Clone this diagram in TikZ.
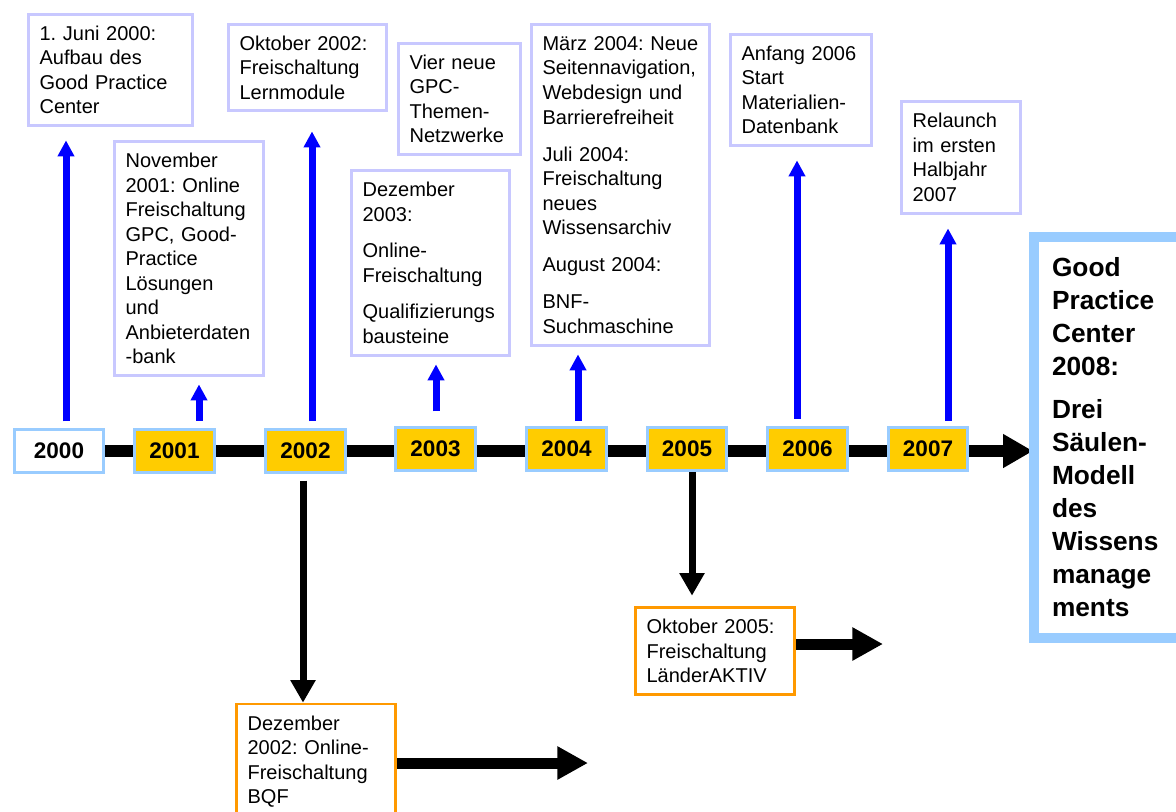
\documentclass[tikz,border=0pt]{standalone}
\usepackage{fontspec}
\setmainfont{Liberation Sans}
\usetikzlibrary{arrows.meta,backgrounds}
\definecolor{lav}{RGB}{200,200,255}
\definecolor{lblue}{RGB}{153,204,255}
\definecolor{gold}{RGB}{255,204,0}
\definecolor{orng}{RGB}{255,153,0}
\definecolor{pblue}{RGB}{0,0,255}
\hyphenpenalty=10000
\exhyphenpenalty=10000
\frenchspacing
\begin{document}
\begin{tikzpicture}[x=0.75pt,y=-0.75pt,
  txt/.style={font=\fontsize{15}{18.4}\selectfont\frenchspacing, align=left, inner xsep=8.5pt, inner ysep=0pt},
  evbox/.style={txt, draw=lav, line width=2pt},
  orbox/.style={txt, draw=orng, line width=2pt},
  yr/.style={draw=lblue, line width=2.25pt, fill=gold, minimum width=59.6pt, minimum height=32.25pt, inner sep=0pt, font=\fontsize{16.9}{20}\selectfont\bfseries},
  bigbox/.style={draw=lblue, line width=7.5pt, align=left, inner xsep=13.9pt, inner ysep=0pt, font=\fontsize{19.7}{24.75}\selectfont\bfseries},
  uparr/.style={draw=pblue, line width=5.25pt, -{Triangle[length=12pt,width=12pt]}},
  downarr/.style={draw=black, line width=5.25pt, -{Triangle[length=17pt,width=18pt]}},
  rarr/.style={draw=black, line width=8.25pt, -{Triangle[length=23pt,width=23.5pt]}},
  tline/.style={draw=black, line width=9pt, -{Triangle[length=22.5pt,width=24pt]}}
]
\useasboundingbox (0,0) rectangle (1176,811);

% year boxes
\node[yr, fill=white, minimum width=66.75pt] (y2000) at (59,451) {2000};
\node[yr] (y2001) at (174.5,451) {2001};
\node[yr] (y2002) at (305.5,451) {2002};
\node[yr] (y2003) at (435.5,449) {2003};
\node[yr] (y2004) at (566.5,449) {2004};
\node[yr] (y2005) at (687,449) {2005};
\node[yr] (y2006) at (807.5,449) {2006};
\node[yr] (y2007) at (928,449) {2007};

% event boxes
\node[evbox, text width=106.4pt, minimum height=83.6pt] (n2000) at (110.5,70)
  {1. Juni 2000:\\Aufbau des\\Good Practice\\Center};
\node[evbox, text width=101.9pt, minimum height=64.9pt] (n2002a) at (307.5,67.5)
  {Oktober 2002:\\Freischaltung\\Lernmodule};
\node[evbox, text width=95.1pt, minimum height=175.9pt] (n2001) at (189,258.5)
  {November\\2001: Online\\Freischaltung\\GPC, Good-\\Practice\\Lösungen\\und\\Anbieterdaten\\-bank};
\node[evbox, text width=74.9pt, minimum height=83.6pt] (n2003a) at (459.5,99)
  {Vier neue\\GPC-\\Themen-\\Netzwerke};
\node[evbox, text width=101.9pt, minimum height=139.1pt] (n2003) at (430.5,263)
  {Dezember\\2003:\\[9pt]Online-\\Freischaltung\\[9pt]Qualifizierungs\\bausteine};
\node[evbox, text width=116.9pt, minimum height=241.1pt] (n2004) at (620.5,185)
  {März 2004: Neue\\Seitennavigation,\\Webdesign und\\Barrierefreiheit\\[9.4pt]Juli 2004:\\Freischaltung\\neues\\Wissensarchiv\\[9.4pt]August 2004:\\[9.4pt]BNF-\\Suchmaschine};
\node[evbox, text width=89.1pt, minimum height=83.6pt] (n2006) at (801,90)
  {Anfang 2006\\Start\\Materialien-\\Datenbank};
\node[evbox, text width=72.6pt, minimum height=84.4pt] (n2007) at (961,157.5)
  {Relaunch\\im ersten\\Halbjahr\\2007};

% bottom boxes
\node[orbox, text width=102.6pt, minimum height=86.25pt] (dez) at (316,761.5)
  {Dezember\\2002: Online-\\Freischaltung\\BQF};
\node[orbox, text width=102.6pt, minimum height=65.6pt] (okt) at (715,651)
  {Oktober 2005:\\Freischaltung\\LänderAKTIV};

% big box
\node[bigbox, text width=89.6pt, minimum height=300.4pt] (big) at (1111.75,437.25)
  {Good\\Practice\\Center\\2008:\\[7.5pt]Drei\\Säulen-\\Modell\\des\\Wissens\\manage\\ments};

% timeline
\begin{pgfonlayer}{background}
\draw[tline, shorten >=-3.4pt] (y2000.east) -- (y2000.east -| big.west);
\end{pgfonlayer}

% blue arrows
\draw[uparr, shorten <=4.9pt, shorten >=10pt] (y2000.north -| 66,0) -- (n2000.south -| 66,0);
\draw[uparr, shorten <=5.6pt, shorten >=5.5pt] (y2001.north -| 199,0) -- (n2001.south -| 199,0);
\draw[uparr, shorten <=4.9pt, shorten >=14.5pt] (y2002.north -| 312,0) -- (n2002a.south -| 312,0);
\draw[uparr, shorten <=10.9pt, shorten >=5.5pt] (y2003.north -| 436,0) -- (n2003.south -| 436,0);
\draw[uparr, shorten <=4.1pt, shorten >=5.5pt] (y2004.north -| 578,0) -- (n2004.south -| 578,0);
\draw[uparr, shorten <=5.6pt, shorten >=10pt] (y2006.north -| 797,0) -- (n2006.south -| 797,0);
\draw[uparr, shorten <=4.1pt, shorten >=10pt] (y2007.north -| 948,0) -- (n2007.south -| 948,0);

% black down arrows
\draw[downarr, shorten <=4.9pt] (y2002.south -| 303,0) -- (dez.north -| 303,0);
\draw[downarr, shorten >=7.7pt] (y2005.south -| 692,0) -- (okt.north -| 692,0);

% black right arrows
\coordinate (dezEnd) at (588,763);
\coordinate (oktEnd) at (883,644);
\draw[rarr] (dez.east |- dezEnd) -- (dezEnd);
\draw[rarr] (okt.east |- oktEnd) -- (oktEnd);
\end{tikzpicture}
\end{document}
